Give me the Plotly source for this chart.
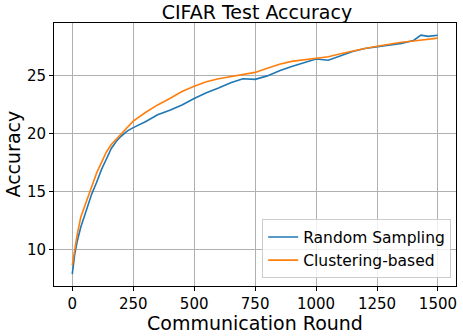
import plotly.graph_objects as go

rounds_random = [0, 10, 20, 35, 50, 65, 80, 100, 120, 140, 160, 180, 200, 225, 250,
                 300, 350, 400, 450, 500, 550, 600, 650, 700, 750, 800, 850, 900,
                 950, 1000, 1050, 1100, 1150, 1200, 1250, 1300, 1350, 1400, 1430,
                 1460, 1499]
acc_random = [7.9, 9.6, 10.7, 11.95, 12.9, 13.9, 14.8, 15.8, 16.9, 17.8, 18.7, 19.3,
              19.75, 20.2, 20.5, 21.0, 21.6, 22.0, 22.45, 23.0, 23.5, 23.9, 24.35,
              24.7, 24.65, 24.95, 25.4, 25.75, 26.1, 26.4, 26.3, 26.7, 27.05, 27.3,
              27.45, 27.6, 27.75, 28.0, 28.45, 28.35, 28.45]

rounds_cluster = [0, 10, 20, 35, 50, 65, 80, 100, 120, 140, 160, 180, 200, 225, 250,
                  300, 350, 400, 450, 500, 550, 600, 650, 700, 750, 800, 850, 900,
                  950, 1000, 1050, 1100, 1150, 1200, 1250, 1300, 1350, 1400, 1450,
                  1499]
acc_cluster = [8.65, 10.2, 11.3, 12.8, 13.7, 14.6, 15.5, 16.6, 17.5, 18.4, 19.05, 19.5,
               19.9, 20.5, 21.05, 21.8, 22.45, 23.0, 23.6, 24.05, 24.45, 24.7, 24.9,
               25.05, 25.25, 25.6, 25.95, 26.2, 26.35, 26.45, 26.6, 26.85, 27.1, 27.3,
               27.5, 27.7, 27.85, 27.95, 28.05, 28.2]

x_ticks = [0, 250, 500, 750, 1000, 1250, 1500]
y_ticks = [10, 15, 20, 25]

fig = go.Figure()
fig.add_trace(go.Scatter(x=rounds_random, y=acc_random, mode='lines',
                         name='Random Sampling',
                         line=dict(color='#1f77b4', width=1.6)))
fig.add_trace(go.Scatter(x=rounds_cluster, y=acc_cluster, mode='lines',
                         name='Clustering-based',
                         line=dict(color='#ff7f0e', width=1.6)))

axis_style = dict(showline=True, linecolor='black', linewidth=1, mirror=True,
                  ticks='outside', ticklen=4, tickcolor='black',
                  showgrid=True, gridcolor='#b0b0b0', gridwidth=1,
                  zeroline=False, automargin=False,
                  tickfont=dict(size=15, color='black'))

fig.update_layout(
    width=463, height=336,
    margin=dict(l=54, r=7, t=23, b=50),
    paper_bgcolor='white', plot_bgcolor='white',
    font=dict(family='DejaVu Sans', color='black'),
    title=dict(text='CIFAR Test Accuracy', x=0.555, xanchor='center',
               y=1 - 12 / 336, yanchor='middle', font=dict(size=19)),
    xaxis=dict(axis_style, range=[-75, 1574], tickvals=x_ticks),
    yaxis=dict(axis_style, range=[6.87, 29.5], tickvals=y_ticks),
    legend=dict(x=0.988, xanchor='right', y=0.029, yanchor='bottom',
                bgcolor='rgba(255,255,255,0.8)', bordercolor='#cccccc',
                borderwidth=1, font=dict(size=15.5), tracegroupgap=0),
    annotations=[
        dict(text='Communication Round', xref='paper', yref='paper',
             x=0.5, y=-37 / 263, xanchor='center', yanchor='middle',
             showarrow=False, font=dict(size=19)),
        dict(text='Accuracy', xref='paper', yref='paper', textangle=-90,
             x=-42 / 402, y=0.5, xanchor='center', yanchor='middle',
             showarrow=False, font=dict(size=19)),
    ],
)

# drop the default page margin so the figure sits at the window's top-left corner
fig.write_html("out.html", config={'displayModeBar': False},
               post_script="document.body.style.margin='0';")
